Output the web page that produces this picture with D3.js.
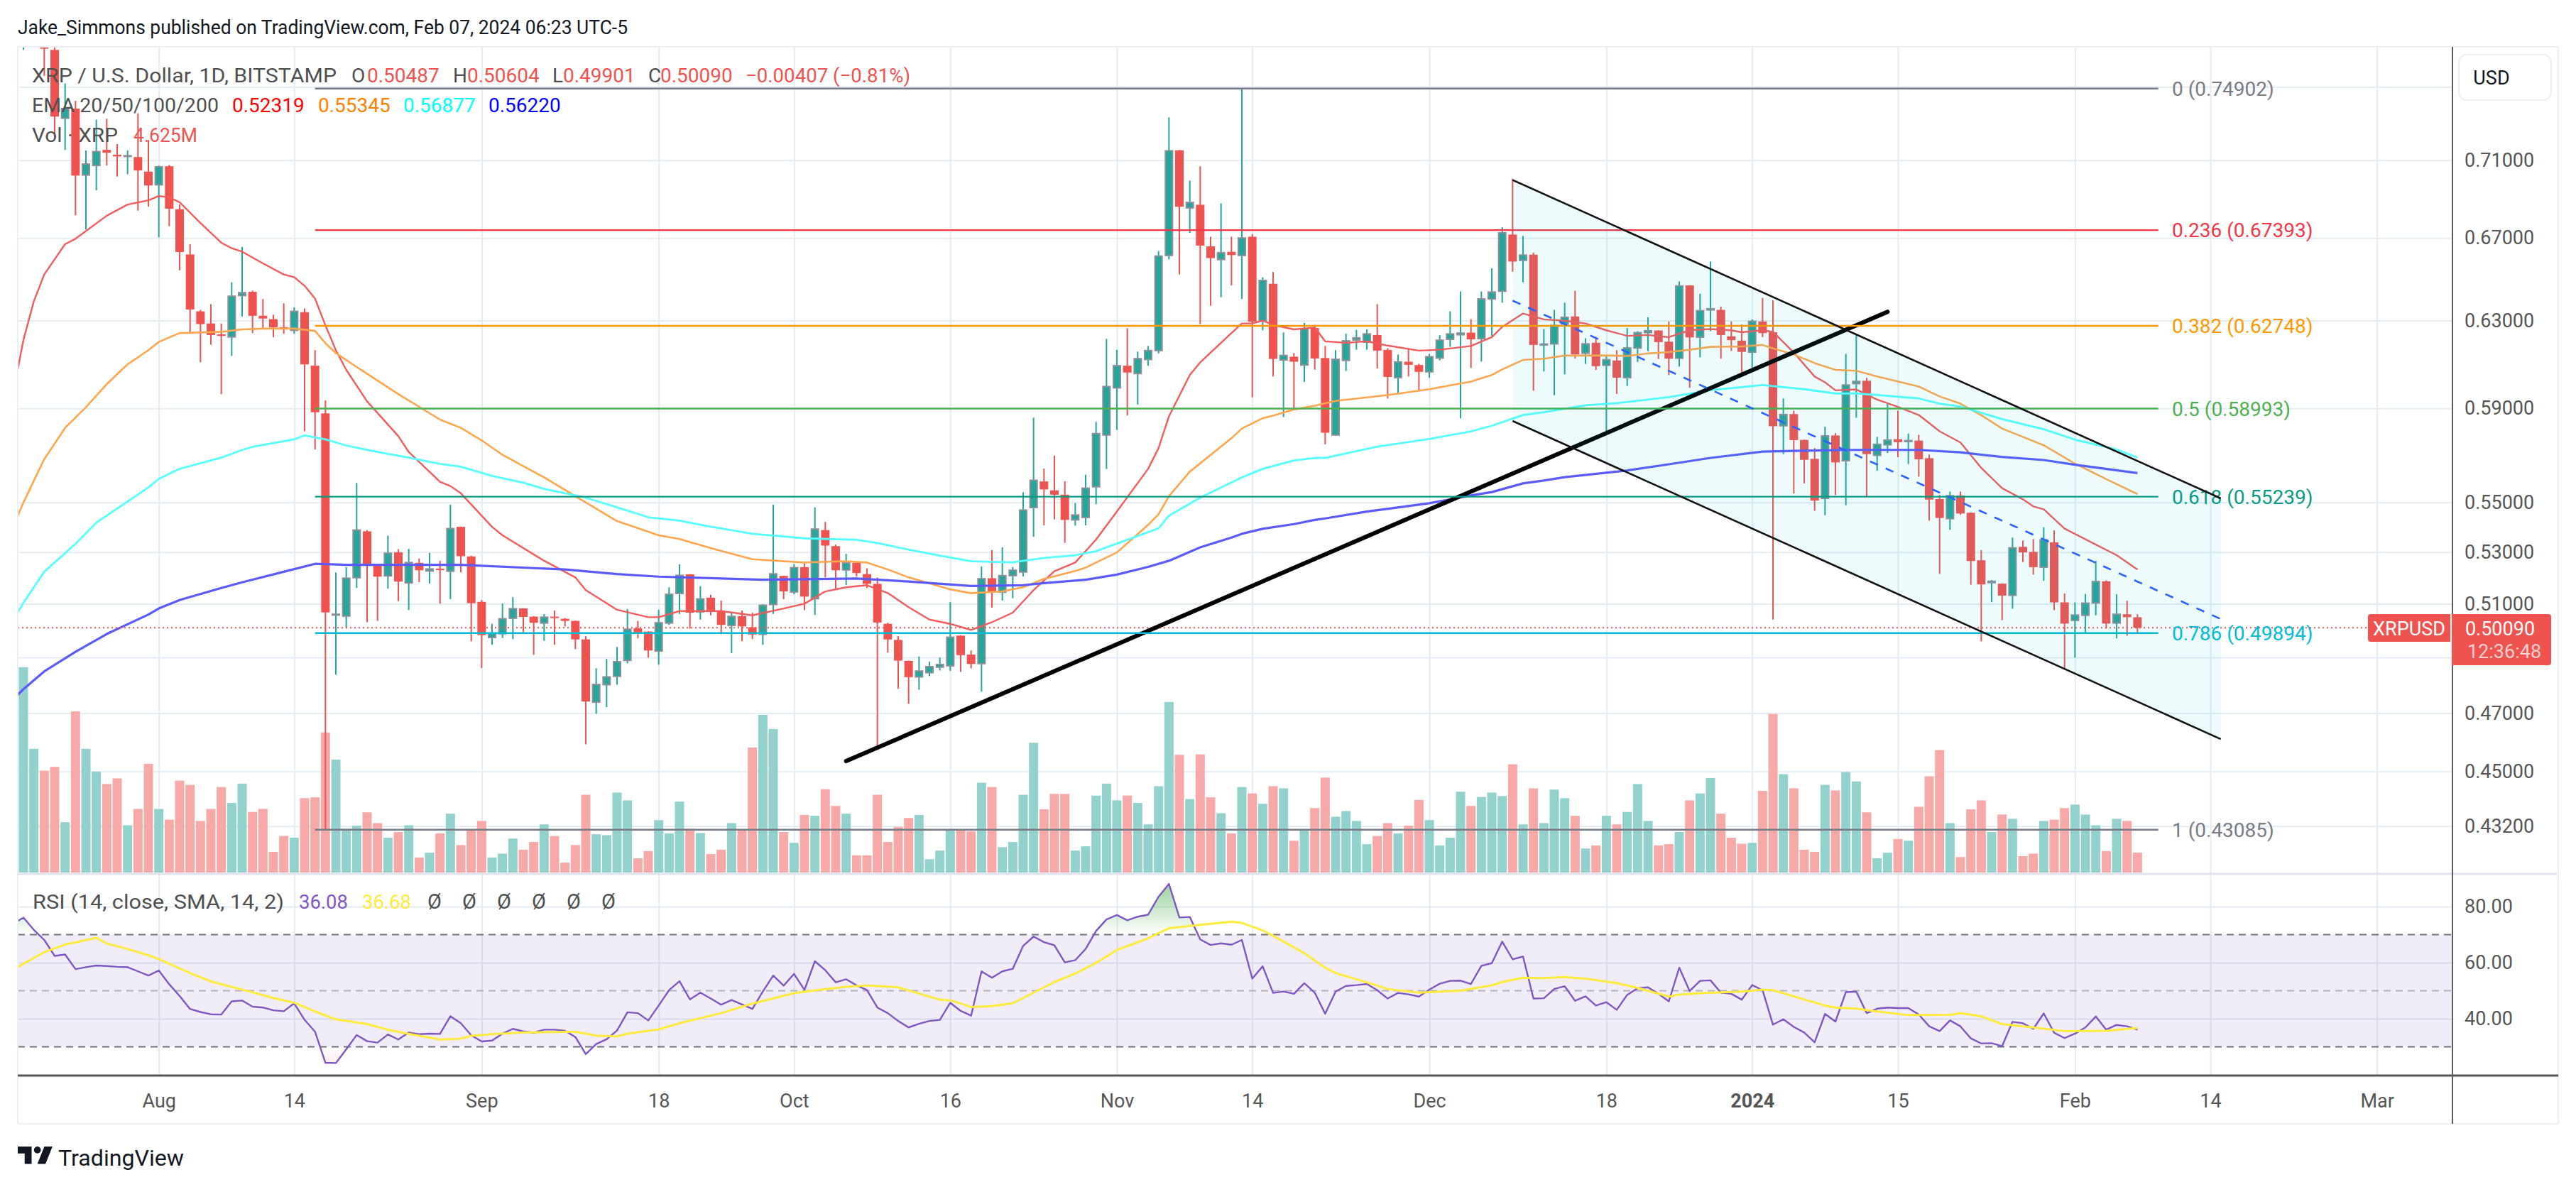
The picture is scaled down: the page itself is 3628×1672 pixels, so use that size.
<!DOCTYPE html>
<html><head><meta charset="utf-8">
<script src="https://cdn.jsdelivr.net/npm/d3@7"></script>
<style>html,body{margin:0;padding:0;background:#fff}svg{display:block}text{font-family:Roboto,sans-serif}</style>
</head><body><svg id="c" width="3628" height="1672"></svg>
<script>
const firstDay = "2023-07-19";
const opens = [.785,.80,.79,.7709,.7326,.7379,.7022,.7072,.7155,.7129,
.712,.7117,.704,.6971,.7068,.6845,.6618,.6343,.6286,.6235,
.6223,.6418,.6436,.6322,.6306,.6269,.6254,.6339,.6091,.5878,
.5057,.5053,.52,.5383,.5249,.5207,.5299,.518,.5258,.5226,
.5235,.5225,.5401,.5283,.5107,.4973,.4987,.5045,.5082,.5051,
.5027,.5051,.5043,.5035,.4966,.4739,.4801,.4831,.4889,.5007,
.4995,.4923,.5027,.5139,.5213,.5069,.5123,.5072,.5018,.5053,
.5011,.4985,.5097,.5207,.5145,.5241,.5119,.5388,.5324,.523,
.5258,.5214,.5176,.5024,.4964,.4887,.4829,.4844,.4864,.4869,
.498,.491,.4877,.5198,.5144,.5208,.5222,.5479,.5587,.555,
.5532,.5429,.5439,.5565,.5784,.5991,.6091,.6055,.6119,.616,
.6613,.7153,.6852,.6868,.6658,.6593,.6631,.6613,.6706,.6299,
.6475,.6117,.6132,.6094,.6264,.6126,.5784,.6115,.6209,.6199,
.6232,.6163,.6037,.6109,.6094,.6063,.6126,.6212,.6233,.6243,
.6215,.6402,.6439,.6717,.6589,.6617,.6186,.6191,.6283,.6319,
.6148,.6196,.6093,.6115,.6037,.6172,.6243,.6253,.6201,.6125,
.6467,.6222,.635,.635,.6226,.6206,.6153,.6295,.6245,.5824,
.5875,.5763,.5682,.5517,.5782,.5674,.601,.6023,.5697,.5742,
.5766,.5756,.576,.5685,.5514,.5434,.5529,.5458,.5268,.5181,
.5177,.5132,.5321,.5301,.5241,.5339,.5105,.5037,.5056,.5103,
.5186,.5027,.506,.50487];
const highs = [.81,.83,.80,.775,.7519,.7422,.7152,.7318,.7323,.7186,
.7152,.7353,.7208,.7072,.7075,.687,.6669,.635,.6377,.6286,
.6482,.6655,.6442,.6402,.6327,.6381,.6362,.6357,.6162,.5935,
.522,.5241,.5581,.5388,.525,.5366,.5312,.5313,.5275,.5297,
.5266,.5491,.5402,.5286,.5114,.5024,.5101,.5125,.5083,.5053,
.5061,.5074,.5046,.5036,.4978,.486,.4894,.4938,.508,.5035,
.4996,.5077,.5163,.5252,.5214,.5167,.5134,.5112,.5066,.5074,
.5066,.5098,.5491,.5208,.5253,.5255,.548,.5421,.533,.5293,
.526,.5236,.5201,.5028,.4978,.4888,.4903,.4884,.4899,.5106,
.4981,.4925,.5243,.5308,.5319,.5241,.5542,.5859,.5641,.5696,
.5588,.5498,.5615,.5841,.6214,.6163,.6263,.6155,.6181,.6635,
.7331,.7154,.6993,.7068,.6706,.6875,.6706,.74902,.6719,.6506,
.6532,.6244,.6149,.6288,.6279,.6181,.6162,.6238,.6256,.6258,
.6377,.6171,.6142,.6168,.61,.6145,.6231,.6343,.6438,.6306,
.6438,.655,.6754,.7003,.671,.6627,.626,.635,.6384,.6441,
.6217,.6223,.6139,.6162,.6264,.625,.6315,.6254,.6295,.6486,
.6468,.6427,.6583,.6366,.6295,.6281,.6305,.6407,.6396,.5944,
.589,.5764,.5728,.582,.5792,.6145,.6237,.6036,.5776,.5924,
.589,.579,.5785,.57,.5531,.5545,.5545,.546,.5308,.5191,
.5178,.5358,.5346,.5352,.5399,.5387,.5139,.5105,.5137,.5266,
.519,.5136,.5111,.50604];
const lows = [.771,.785,.756,.7216,.7155,.6814,.6742,.6942,.7072,.7014,
.7026,.6838,.6859,.6703,.6759,.654,.6245,.6106,.6187,.5963,
.6136,.6319,.6241,.6258,.6222,.6238,.6238,.58,.5722,.43085,
.4837,.5009,.516,.503,.5035,.5158,.511,.5076,.5183,.5177,
.51,.5117,.5221,.4959,.4861,.4946,.4971,.4967,.499,.4909,
.4961,.4946,.5014,.493,.4592,.4698,.4721,.4801,.4878,.497,
.4899,.4873,.502,.5061,.5006,.504,.5056,.4985,.4915,.496,
.4967,.4946,.5061,.5117,.5136,.5076,.5057,.5201,.5158,.5172,
.5204,.516,.4588,.4917,.4786,.4733,.4783,.4832,.4852,.4851,
.4847,.486,.4776,.5085,.5112,.5121,.5205,.5361,.5407,.5431,
.5337,.5406,.5407,.5493,.5639,.5806,.5869,.5917,.6091,.6147,
.6594,.652,.6725,.6283,.637,.641,.6467,.6402,.5949,.6254,
.6042,.5862,.5899,.6017,.6073,.5744,.578,.6067,.6164,.6164,
.6078,.5944,.5966,.6042,.5981,.6036,.6115,.6177,.5856,.6081,
.611,.6228,.6384,.6533,.6482,.5978,.6065,.5958,.6052,.6124,
.6099,.6072,.5784,.5964,.6,.6108,.6157,.6122,.6048,.6087,
.5991,.6129,.625,.6123,.6158,.6058,.6081,.6222,.504,.5702,
.5537,.5579,.5466,.5448,.5531,.5489,.5859,.5523,.5632,.5707,
.5689,.566,.5607,.5426,.5215,.5389,.545,.5173,.4959,.5106,
.5038,.5081,.5261,.5212,.5188,.5076,.4856,.4899,.499,.5056,
.5006,.497,.498,.49901];
const closes = [.80,.81,.7716,.7335,.7379,.7019,.708,.7146,.714,.712,
.7124,.7046,.6968,.7065,.6848,.663,.6352,.6283,.6232,.6228,
.6415,.6432,.6322,.6309,.6268,.626,.6343,.6097,.5883,.5067,
.506,.5198,.5388,.5246,.5204,.5296,.5185,.5259,.5229,.5234,
.523,.5394,.5284,.5102,.4982,.4989,.5043,.5081,.505,.5028,
.5049,.5046,.5035,.4966,.4741,.4802,.4829,.4884,.5004,.4992,
.4925,.5028,.5136,.5209,.5066,.5118,.5074,.502,.5052,.5014,
.4984,.5094,.5215,.5147,.5239,.5127,.5392,.5326,.5229,.5258,
.5218,.5176,.5029,.4966,.4888,.4828,.485,.4866,.4874,.4974,
.4908,.4876,.5196,.5147,.5208,.5229,.5469,.5592,.5554,.5532,
.5429,.5449,.5559,.579,.5997,.6091,.606,.6123,.616,.661,
.715,.6858,.688,.6662,.66,.6627,.6615,.67,.6294,.6491,
.6122,.6138,.6109,.626,.6124,.5794,.612,.6205,.6219,.6237,
.616,.604,.6108,.6095,.6063,.6132,.6208,.6237,.6241,.6212,
.6402,.6435,.6726,.6583,.6615,.6186,.619,.6277,.6315,.6143,
.6191,.6089,.6118,.6037,.6172,.6243,.6252,.6199,.6123,.6464,
.6221,.6346,.6355,.6232,.6208,.6154,.6296,.6241,.5822,.5873,
.5762,.5678,.5508,.578,.5667,.6004,.602,.5702,.5744,.5762,
.5753,.576,.568,.5512,.5437,.5528,.5455,.5265,.5174,.5186,
.5131,.5317,.5299,.5241,.5349,.5105,.5025,.5057,.5102,.5185,
.5025,.506,.5049,.5009];
const volumes = [47.8,28.8,23.7,24.6,11.7,37.5,28.8,23.5,20.6,21.9,
11,14.8,25.3,14.8,12.3,21.4,20.4,12,14.8,19.9,
16.2,20.7,14.1,14.8,4.8,8.5,8.1,17.3,17.5,32.6,
26.3,10.2,10.9,14,11.5,8.1,9.4,11,3.5,4.6,
9.1,13.7,6.4,9.9,12,3.5,4.4,7.9,5.3,7.1,
11.2,8.5,2.3,6.4,18.1,8.9,8.7,18.6,16.8,3.3,
5,12.2,9.1,16.5,10.2,9.2,4.3,5.3,11.5,9.9,
29.1,36.7,33.4,9.4,6.9,13.4,13.2,19.4,15.5,13.7,
4,4,18.1,7.1,10.6,12.7,13.4,3.1,5.1,9.8,
10,9.6,20.9,19.9,5.9,7.1,18.1,30.2,14.7,18.3,
18.3,5.1,6.1,17.9,20.7,16.8,17.9,16.2,11.2,20.1,
39.7,27.4,17.1,27.5,17.5,13.8,9.1,19.9,18.4,16,
20.1,19.6,7.4,9.8,15,22.1,13,14.3,12,6.6,
8.5,11.5,9.1,10.9,16.9,12.2,6.3,8.1,18.8,15.5,
17.6,18.6,17.8,25.2,11.2,19.6,11.5,19.3,17.3,13.2,
5.6,6.3,13.2,11.2,14.1,20.6,12,6.3,6.6,9.4,
16.8,18.4,22,13.7,8.1,6.7,6.9,19,36.9,22.9,
19.6,5.3,4.8,20.4,19.1,23.4,21.2,14,3.3,4.6,
7.8,7.4,15.3,22.4,28.5,11.5,3.6,14.7,16.8,9.4,
13.5,12.5,3.8,4.4,12,12.3,15,15.8,13.5,11,
5,12.5,12,4.625];
const rsiValues = [76.1,71.7,68.1,62.4,62.9,57.7,58.4,59,58.8,58.5,
58.4,56.9,55.4,57.2,52.3,48.1,43.5,42.4,41.6,41.5,
46.2,46.5,44.3,44,43,42.7,45.5,39.6,35.4,24.3,
24.2,29.1,34.2,32,31.5,34.4,32.6,35.1,34.5,34.7,
34.6,40.9,38.4,34.1,31.9,32.2,34.7,36.4,35.5,35,
36.1,36.1,35.7,33.5,27.4,31,32.7,35.8,42.3,42,
39.4,44.7,50.2,53.4,46.9,49.3,47.2,45,46.7,45.1,
43.5,49.7,55.4,51.8,56,50.3,60.5,57.3,53,54.1,
51.9,50.2,44,42,39.2,36.9,38.2,39.2,39.6,45.7,
42.8,41.1,56.9,54.6,56.9,57.8,66,69.3,67.3,66.2,
60.1,60.9,64.9,71.3,75.4,77,75.1,76.4,77.1,83.5,
88.1,76.1,76.3,68.3,66.3,66.9,66.4,68.1,54.3,58.7,
49.2,49.7,48.9,52.7,49.3,41.8,49.7,51.7,52,52.4,
50.2,47.2,49.2,48.7,47.9,50.4,52.5,53.5,53.6,52.4,
58.9,59.8,67.5,61.2,62.2,47.2,47.3,50.6,51.6,46.4,
48,44.7,45.9,43.2,48.5,50.9,51.2,48.9,46.2,58.2,
49.9,53.5,53.7,49.3,48.9,46.8,52,50.2,37.9,39.8,
37.1,35.1,31.6,41.7,39,49.5,49.7,42,43.6,44,
43.8,43.8,41.5,37.3,35.6,39.4,37.3,33,31.2,31.3,
30.2,38.9,38.4,36.4,41.9,35,33.1,34.7,36.9,40.8,
36.1,37.8,37.3,36.08];
// the day before the first candle, where the indicator lines leave the pane
const rsiBefore = 73.8;
// [bar number, value] as read at the visible vertices of each line
const ema20 = [[-1,.5964],[0,.6209],[1,.6391],[2,.652],[4,.6669],[5,.6696],[8,.6812],[10,.6869],[12,.6891],[13,.6913],[14,.6906],[15,.6881],[17,.6775],[19,.6676],[20,.6649],[21,.6632],[23,.6574],[25,.652],[26,.6507],[27,.6465],[28,.6404],[29,.6277],[30,.6162],[31,.6072],[33,.5931],[36,.5779],[37,.5711],[40,.5586],[41,.5568],[42,.5538],[45,.5401],[46,.5367],[50,.5266],[53,.5201],[54,.5152],[57,.5077],[60,.5049],[61,.5049],[63,.5072],[67,.5072],[70,.5056],[73,.5082],[75,.51],[76,.5123],[77,.5147],[79,.5163],[81,.5171],[83,.5141],[85,.5087],[87,.504],[89,.5024],[91,.5001],[93,.503],[95,.5066],[97,.5152],[99,.5225],[101,.5259],[103,.535],[105,.5463],[108,.564],[109,.5728],[110,.5865],[112,.6049],[113,.6106],[116,.6241],[117,.6286],[118,.6286],[119,.6299],[120,.6279],[122,.6258],[124,.6267],[125,.6203],[127,.6196],[129,.6203],[131,.6183],[134,.616],[136,.6164],[139,.6181],[141,.6222],[142,.627],[144,.6333],[146,.6305],[148,.6299],[150,.6286],[152,.6254],[154,.6228],[156,.6232],[158,.6222],[160,.6254],[162,.626],[164,.6254],[165,.6245],[167,.6254],[168,.6247],[170,.6151],[172,.6042],[173,.6016],[174,.598],[176,.5984],[178,.5939],[180,.5907],[182,.5871],[184,.58],[186,.5752],[188,.5644],[190,.5559],[192,.5513],[193,.5484],[194,.5472],[196,.5394],[199,.533],[201,.5288],[203,.52319]];
const ema50 = [[-1,.5401],[0,.55],[2,.5681],[3,.5747],[4,.5815],[6,.5905],[8,.6008],[10,.6097],[12,.6162],[13,.62],[15,.6241],[19,.6247],[21,.6258],[23,.6262],[26,.6262],[28,.6251],[29,.6194],[30,.6149],[32,.6085],[36,.5963],[40,.5851],[42,.5815],[44,.5761],[46,.5699],[50,.5604],[53,.5526],[57,.5424],[61,.5367],[63,.5352],[66,.5316],[70,.5272],[75,.5259],[76,.5261],[79,.5264],[81,.5259],[83,.5232],[85,.5201],[89,.5155],[91,.514],[94,.5147],[96,.5163],[98,.5195],[101,.5226],[102,.5239],[105,.5299],[108,.5409],[109,.5452],[110,.5526],[112,.5628],[116,.577],[117,.5812],[119,.5857],[120,.5868],[122,.5895],[124,.5912],[126,.5933],[131,.5959],[135,.5985],[139,.6019],[141,.6049],[142,.6074],[144,.6117],[146,.6123],[148,.6137],[152,.6138],[154,.6135],[156,.6147],[158,.6153],[160,.6164],[162,.6177],[165,.6179],[167,.6186],[168,.617],[170,.6142],[172,.6103],[174,.6072],[176,.6068],[178,.6042],[182,.5997],[184,.5953],[186,.5921],[188,.587],[190,.5812],[192,.5776],[194,.574],[197,.5662],[200,.5597],[203,.55345]];
const ema100 = [[-1,.504],[0,.5103],[2,.5223],[5,.5333],[7,.5418],[12,.5562],[13,.5598],[15,.564],[19,.5687],[21,.572],[22,.5733],[26,.5765],[27,.5782],[29,.5765],[31,.5739],[34,.5711],[37,.5687],[40,.5661],[42,.5649],[45,.561],[48,.5582],[50,.5556],[54,.552],[57,.548],[60,.544],[63,.5426],[66,.5402],[70,.5373],[75,.5355],[80,.5349],[82,.5336],[85,.531],[88,.5286],[91,.5264],[95,.526],[98,.5277],[101,.5288],[103,.5304],[106,.5349],[109,.5395],[110,.5446],[113,.552],[117,.5604],[119,.564],[122,.5675],[124,.5686],[125,.5686],[130,.5734],[135,.5767],[139,.58],[141,.5824],[144,.5871],[146,.5883],[150,.5914],[153,.5923],[158,.595],[162,.5981],[167,.6004],[171,.5985],[174,.5966],[176,.5966],[178,.5959],[182,.5944],[184,.5921],[186,.5908],[187,.5895],[190,.5853],[194,.5809],[197,.5764],[201,.5722],[203,.56877]];
const ema200 = [[-1,.4748],[0,.4785],[2,.4849],[5,.492],[8,.4986],[12,.5059],[13,.5082],[15,.5114],[19,.516],[21,.5182],[25,.5223],[28,.5254],[31,.525],[42,.525],[52,.5232],[57,.5214],[61,.5204],[71,.5192],[80,.5197],[85,.5185],[91,.5168],[96,.5171],[98,.5179],[102,.5192],[105,.5212],[108,.5242],[110,.5266],[113,.5319],[116,.5358],[117,.5373],[119,.5393],[122,.5412],[124,.5429],[125,.5435],[129,.5463],[135,.5497],[139,.5529],[141,.5543],[144,.5579],[146,.5591],[148,.5605],[154,.5633],[158,.5659],[162,.5686],[167,.5713],[170,.5716],[175,.572],[182,.572],[186,.571],[190,.569],[194,.5677],[197,.5657],[203,.5622]];
const rsiSma = [[-1,57.3],[0,59.6],[1,61.7],[2,63.7],[4,66.5],[5,67.2],[7,68.9],[8,66.8],[10,64.9],[12,62.6],[13,61.3],[16,56.3],[18,53.3],[21,50.4],[24,47.4],[26,45.7],[28,42.6],[30,39.8],[33,38.1],[35,36.1],[37,34.6],[40,32.6],[42,32.9],[43,33.9],[45,34.5],[48,35.1],[53,35.4],[55,34],[57,33.7],[58,34.7],[61,36.2],[63,38.4],[67,42],[70,45.4],[74,49.1],[76,50.1],[79,51.4],[81,51.9],[84,51.2],[88,46.8],[89,46.6],[91,44.2],[93,44.5],[95,45.5],[97,49.3],[99,53.1],[101,56.1],[103,59.9],[105,64.5],[108,68.7],[110,72.3],[113,73.5],[116,74.6],[117,74.2],[119,71.5],[120,69.6],[123,63.4],[125,58.2],[126,56.3],[129,53],[131,50.6],[134,49.3],[138,50],[141,51.9],[142,53.1],[144,54.6],[146,54.5],[148,54.9],[150,54.3],[153,52.7],[155,51],[158,47.9],[159,48.6],[161,49.1],[165,49.7],[167,50.4],[168,50.2],[173,44.7],[174,44],[176,43.6],[178,42.6],[181,41.3],[185,41.4],[186,42],[188,40.9],[190,38.1],[193,36.9],[196,35.6],[200,35.7],[203,36.68]];
const gridPrices = [.75,.71,.67,.63,.59,.55,.53,.51,.49,.47,.45,.432];
const labelPrices = [.71,.67,.63,.59,.55,.53,.51,.47,.45,.432];
const rsiTicks = [80,60,40];
const timeTicks = ["2023-08-01","2023-08-14","2023-09-01","2023-09-18","2023-10-01","2023-10-16","2023-11-01","2023-11-14","2023-12-01","2023-12-18","2024-01-01","2024-01-15","2024-02-01","2024-02-14","2024-03-01"];
const timeLabels = ["Aug","14","Sep","18","Oct","16","Nov","14","Dec","18","2024","15","Feb","14","Mar"];
const fibLevels = ["0","0.236","0.382","0.5","0.618","0.786","1"];
const fibPrices = [.74902,.67393,.62748,.58993,.55239,.49894,.43085];
const fibColors = ["#787b86","#f23645","#ff9800","#4caf50","#089981","#00bcd4","#787b86"];
const fibSpan = [28,205];
const trendLine = [[79,.4535],[179,.6341]];
const channelTop = [[143,.6996],[211,.5517]];
const channelBottom = [[143,.5845],[211,.4610]];
const channelMid = [[143,.6394],[211,.5042]];
const lastPrice = .5009;

const svg = d3.select("#c");
const L=25,PR=3454,R=3603,T=66,PB=1231,RB=1515,AB=1583;
const day = i => d3.utcDay.offset(new Date(firstDay), i);
const x = d3.scaleUtc().domain([new Date(firstDay), new Date("2024-03-01")]).range([33,3347.7]);
const xi = i => x(day(i));
const y = d3.scaleLog().domain([.71,.45]).range([225.7,1086.7]);
const yR = d3.scaleLinear().domain([80,40]).range([1277,1435]);
const yV = d3.scaleLinear().domain([0,10]).range([1229,1168.5]);
const UP="#26a69a",DN="#ef5350",GRID="#e3ecf3",TXT="#4f4f4f";
const defs = svg.append("defs");
defs.append("clipPath").attr("id","price").append("rect").attr("x",L).attr("y",T).attr("width",PR-L).attr("height",PB-T);
defs.append("clipPath").attr("id","rsi").append("rect").attr("x",L).attr("y",PB).attr("width",PR-L).attr("height",RB-PB);
defs.append("clipPath").attr("id","ob").append("rect").attr("x",L).attr("y",PB).attr("width",PR-L).attr("height",yR(70)-PB);
defs.append("clipPath").attr("id","os").append("rect").attr("x",L).attr("y",yR(30)).attr("width",PR-L).attr("height",RB-yR(30));
const gOb = defs.append("linearGradient").attr("id","gOb").attr("gradientUnits","userSpaceOnUse").attr("x1",0).attr("x2",0).attr("y1",yR(90)).attr("y2",yR(70));
gOb.append("stop").attr("offset",0).attr("stop-color","#4caf50").attr("stop-opacity",.62);
gOb.append("stop").attr("offset",1).attr("stop-color","#4caf50").attr("stop-opacity",0);
const gOs = defs.append("linearGradient").attr("id","gOs").attr("gradientUnits","userSpaceOnUse").attr("x1",0).attr("x2",0).attr("y1",yR(30)).attr("y2",yR(10));
gOs.append("stop").attr("offset",0).attr("stop-color","#ff5252").attr("stop-opacity",0);
gOs.append("stop").attr("offset",1).attr("stop-color","#ff5252").attr("stop-opacity",.4);

const gridH = svg.append("g").attr("transform",`translate(${L},0)`)
  .call(d3.axisRight(y).tickValues(gridPrices).tickSize(PR-L).tickFormat(""));
const gridRsi = svg.append("g").attr("transform",`translate(${L},0)`)
  .call(d3.axisRight(yR).tickValues(rsiTicks).tickSize(PR-L).tickFormat(""));
const gridV = svg.append("g").attr("transform",`translate(0,${RB})`)
  .call(d3.axisBottom(x).tickValues(timeTicks.map(d=>new Date(d))).tickSize(-(RB-T)).tickFormat(""));
[gridH,gridRsi,gridV].forEach(g=>{g.select(".domain").remove();g.selectAll("line").attr("stroke",GRID).attr("stroke-width",2);});

// volume
const price = svg.append("g").attr("clip-path","url(#price)");
price.append("g").selectAll("rect").data(volumes).join("rect")
  .attr("x",(d,i)=>xi(i)-6.5).attr("width",13).attr("y",d=>yV(d)).attr("height",d=>yV(0)-yV(d))
  .attr("fill",(d,i)=>closes[i]>=opens[i]?"#93d2cc":"#f7a9a7");

// candles
const bars = d3.range(opens.length);
price.append("g").selectAll("rect").data(bars).join("rect")
  .attr("x",i=>xi(i)-1).attr("width",2).attr("y",i=>y(highs[i])).attr("height",i=>y(lows[i])-y(highs[i]))
  .attr("fill",i=>closes[i]>=opens[i]?UP:DN);
price.append("g").selectAll("rect").data(bars).join("rect")
  .each(function(i){
    const up=closes[i]>=opens[i], top=y(Math.max(opens[i],closes[i])), bot=y(Math.min(opens[i],closes[i]));
    const s=d3.select(this);
    if(up) s.attr("x",xi(i)-5).attr("width",10).attr("y",top).attr("height",Math.max(bot-top,.5)).attr("fill",UP).attr("stroke","#8a8f98").attr("stroke-width",2);
    else s.attr("x",xi(i)-6).attr("width",12).attr("y",top).attr("height",Math.max(bot-top,2)).attr("fill",DN);
  });

// moving averages
const lineP = d3.line().x(d=>xi(d[0])).y(d=>y(d[1]));
[[ema20,"#f25c5c",2.4],[ema50,"#ffa64d",2.6],[ema100,"#55ffff",2.8],[ema200,"#5a5aff",3.2]].forEach(([data,c,w])=>{
  price.append("path").attr("d",lineP(data)).attr("fill","none").attr("stroke",c).attr("stroke-width",w).attr("stroke-linejoin","round");
});

// last price line
price.append("line").attr("x1",L).attr("x2",3335).attr("y1",y(lastPrice)).attr("y2",y(lastPrice))
  .attr("stroke",DN).attr("stroke-width",2).attr("stroke-dasharray","2 4");

// trend line
const lineD = d3.line().x(d=>xi(d[0])).y(d=>y(d[1]));
svg.append("path").attr("d",lineD(trendLine)).attr("stroke","#000").attr("stroke-width",6).attr("stroke-linecap","round").attr("fill","none");

// fib levels
fibPrices.forEach((p,k)=>{
  svg.append("line").attr("x1",xi(fibSpan[0])).attr("x2",xi(fibSpan[1])).attr("y1",y(p)).attr("y2",y(p)).attr("stroke",fibColors[k]).attr("stroke-width",2.4);
  svg.append("text").attr("x",3059).attr("y",y(p)).attr("dy",".36em").attr("fill",fibColors[k]).attr("font-size",28).text(`${fibLevels[k]} (${p.toFixed(5)})`);
});

// channel
svg.append("path").attr("d",lineD(channelTop.concat(channelBottom.slice().reverse()))+"Z").attr("fill","#00bcd4").attr("fill-opacity",.065);
[channelTop,channelBottom].forEach(c=>svg.append("path").attr("d",lineD(c)).attr("stroke","#131313").attr("stroke-width",2.6).attr("fill","none"));
svg.append("path").attr("d",lineD(channelMid)).attr("stroke","#2962ff").attr("stroke-width",2.6).attr("stroke-dasharray","12 12").attr("fill","none");

// RSI pane
const rsi = svg.append("g").attr("clip-path","url(#rsi)");
rsi.append("rect").attr("x",L).attr("width",PR-L).attr("y",yR(70)).attr("height",yR(30)-yR(70)).attr("fill","#7e57c2").attr("fill-opacity",.115);
const rsiPts = [[-1,rsiBefore]].concat(rsiValues.map((v,i)=>[i,v]));
[[70,"#72727c"],[50,"#b3b1b8"],[30,"#72727c"]].forEach(([v,c])=>{
  rsi.append("line").attr("x1",L).attr("x2",PR).attr("y1",yR(v)).attr("y2",yR(v)).attr("stroke",c).attr("stroke-width",2).attr("stroke-dasharray","10 7");
});
rsi.append("path").attr("clip-path","url(#ob)").attr("fill","url(#gOb)")
  .attr("d",d3.area().x(d=>xi(d[0])).y0(yR(70)).y1(d=>yR(d[1]))(rsiPts));
rsi.append("path").attr("clip-path","url(#os)").attr("fill","url(#gOs)")
  .attr("d",d3.area().x(d=>xi(d[0])).y0(yR(30)).y1(d=>yR(d[1]))(rsiPts));
const lineR = d3.line().x(d=>xi(d[0])).y(d=>yR(d[1]));
rsi.append("path").attr("d",lineR(rsiPts)).attr("fill","none").attr("stroke","#7e57c2").attr("stroke-width",2.4).attr("stroke-linejoin","round");
rsi.append("path").attr("d",lineR(rsiSma)).attr("fill","none").attr("stroke","#ffeb3b").attr("stroke-width",3).attr("stroke-linejoin","round");

// frame
const frame=(x1,y1,x2,y2,c,w)=>svg.append("line").attr("x1",x1).attr("y1",y1).attr("x2",x2).attr("y2",y2).attr("stroke",c).attr("stroke-width",w);
frame(L,T,R,T,"#eceff5",2); frame(R,T,R,AB,"#eceff5",2); frame(L,AB,R,AB,"#eceff5",2); frame(L,T,L,AB,"#eceff5",2);
frame(L,PB,R-2,PB,"#e0e3eb",3);
frame(L,RB,R,RB,"#555",3);
frame(PR,T,PR,AB,"#5d5d5d",2);

// axes
const axP = svg.append("g").attr("transform",`translate(${PR},0)`)
  .call(d3.axisRight(y).tickValues(labelPrices).tickSize(0).tickPadding(17).tickFormat(d=>d.toFixed(5)));
const axR = svg.append("g").attr("transform",`translate(${PR},0)`)
  .call(d3.axisRight(yR).tickValues(rsiTicks).tickSize(0).tickPadding(17).tickFormat(d=>d.toFixed(2)));
const axT = svg.append("g").attr("transform",`translate(0,${RB})`)
  .call(d3.axisBottom(x).tickValues(timeTicks.map(d=>new Date(d))).tickSize(0).tickPadding(26).tickFormat((d,i)=>timeLabels[i]));
[axP,axR,axT].forEach(g=>{g.select(".domain").remove();g.selectAll("text").attr("font-size",27).attr("font-family","Roboto,sans-serif").attr("fill","#555");});
axT.selectAll("text").filter((d,i)=>timeLabels[i]==="2024").attr("font-weight",700);

// legend
const text=(tx,ty,s,c,size=28,anchor="start",len=0)=>{
  const t=svg.append("text").attr("x",tx).attr("y",ty).attr("dy",".36em").attr("fill",c).attr("font-size",size).attr("text-anchor",anchor).text(s);
  if(len) t.attr("textLength",len).attr("lengthAdjust","spacingAndGlyphs");
  return t;
};
text(25,38,"Jake_Simmons published on TradingView.com, Feb 07, 2024 06:23 UTC-5","#131722",28,"start",859);
text(45,105.5,"XRP / U.S. Dollar, 1D, BITSTAMP",TXT,28,"start",429);
text(495,105.5,"O",TXT); text(517,105.5,"0.50487",DN);
text(638,105.5,"H",TXT); text(658,105.5,"0.50604",DN);
text(778,105.5,"L",TXT); text(793,105.5,"0.49901",DN);
text(913,105.5,"C",TXT); text(930,105.5,"0.50090",DN);
text(1050,105.5,"−0.00407 (−0.81%)",DN,28,"start",232);
text(45,147.5,"EMA 20/50/100/200",TXT,28,"start",263);
text(327,147.5,"0.52319","#ff0000"); text(448,147.5,"0.55345","#ff8000"); text(568,147.5,"0.56877","#00ffff"); text(688,147.5,"0.56220","#0000ff");
text(45,190,"Vol · XRP",TXT,28,"start",121); text(188,190,"4.625M",DN,28,"start",90);
text(46,1270,"RSI (14, close, SMA, 14, 2)",TXT,27,"start",354); text(421,1270,"36.08","#7e57c2",27,"start",69); text(510,1270,"36.68","#ffeb3b",27,"start",69);
[602,651,700,749,798,847].forEach(px=>text(px,1270,"Ø",TXT,29));

// USD button and price tags
svg.append("rect").attr("x",3463).attr("y",77).attr("width",130).attr("height",64).attr("rx",11).attr("fill","#fff").attr("stroke","#eceef4").attr("stroke-width",2);
text(3509,109,"USD","#131722",27,"middle");
svg.append("path").attr("d","M3339 865H3451V904H3339a4 4 0 0 1-4-4V869a4 4 0 0 1 4-4Z").attr("fill",DN);
text(3393,885,"XRPUSD","#fff",27,"middle");
svg.append("path").attr("d","M3453 865H3589a4 4 0 0 1 4 4V933a4 4 0 0 1-4 4H3453Z").attr("fill",DN);
text(3521,885,"0.50090","#fff",27,"middle");
text(3527,917,"12:36:48","#fcd0cf",27,"middle");

// logo
svg.append("path").attr("transform","translate(21.7,1605.2) scale(1.63)").attr("d","M14 6H2v6h6v9h6V6zm12 15h-7l6-15h7l-6 15zm-7-9a3 3 0 1 0 0-6 3 3 0 0 0 0 6z").attr("fill","#131722");
text(82,1630,"TradingView","#131722",32,"start",177);
</script></body></html>
